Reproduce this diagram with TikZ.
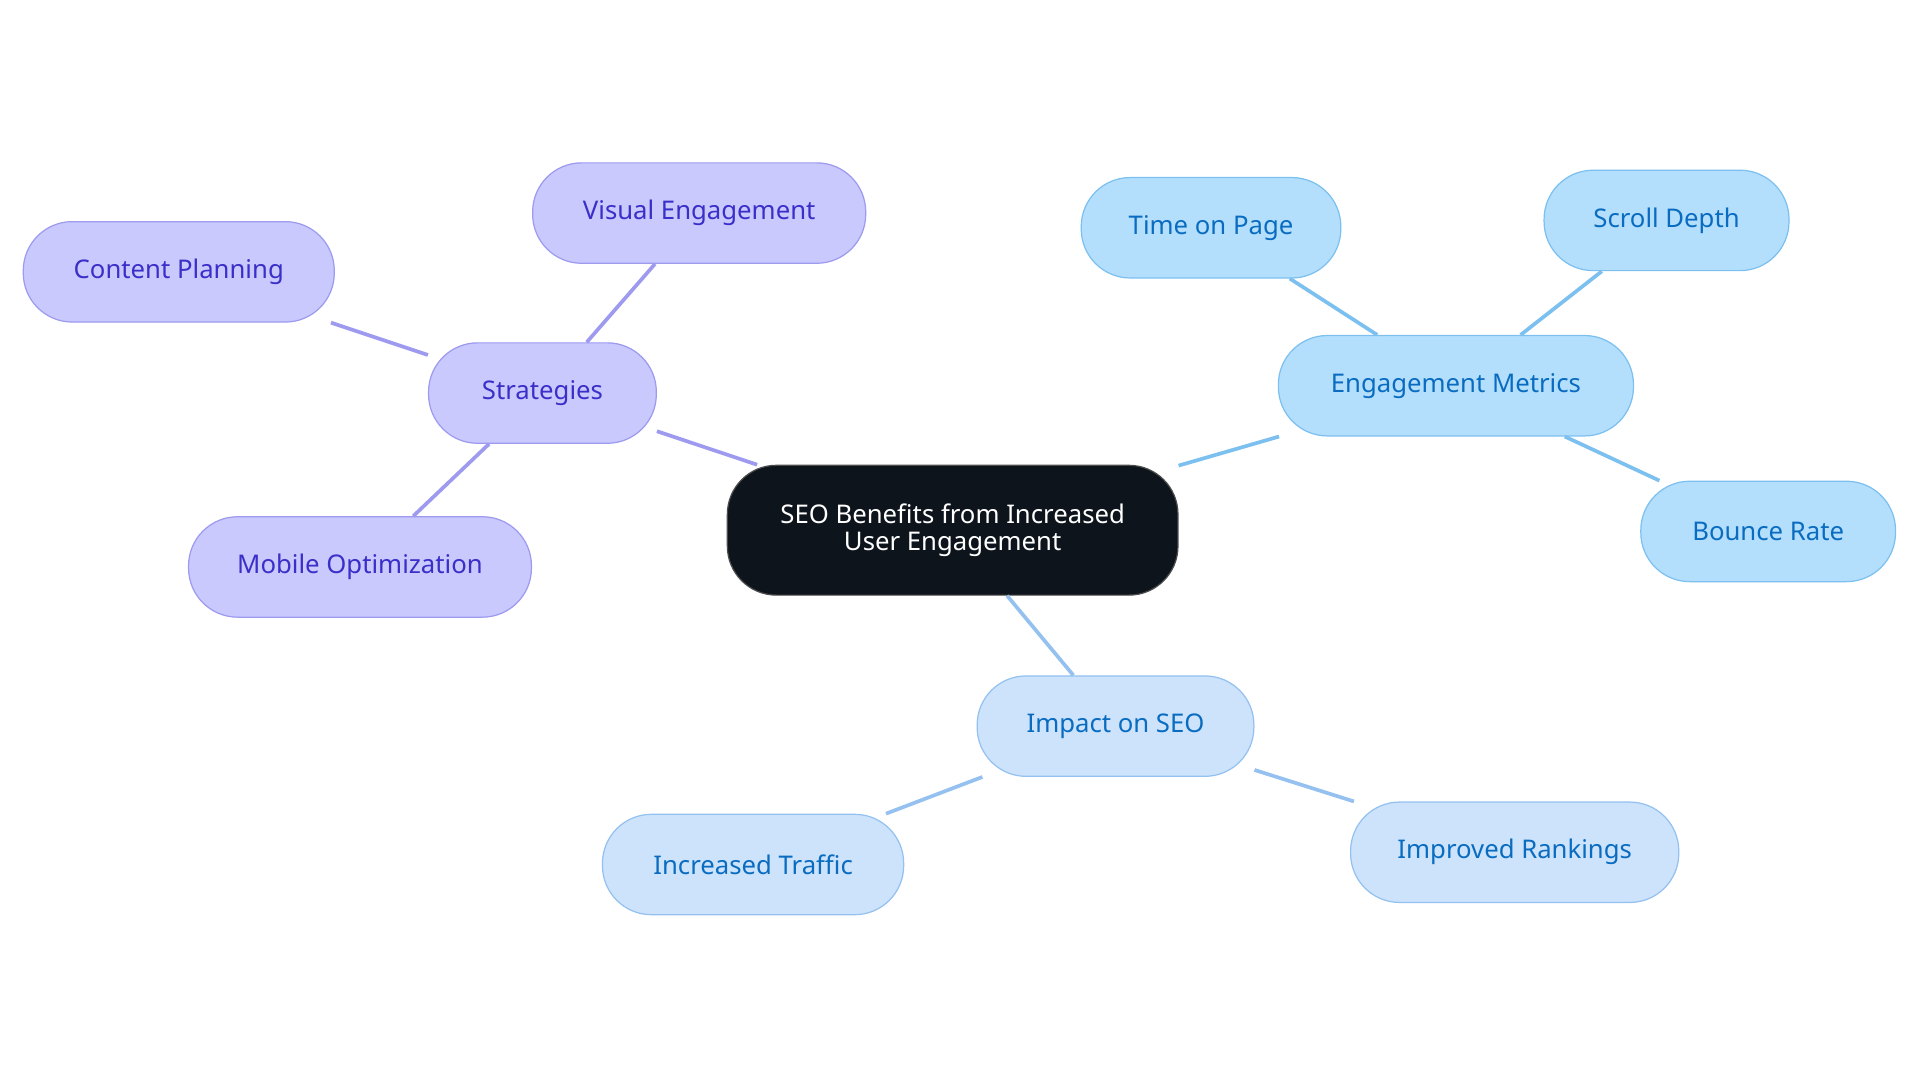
\documentclass[tikz,border=0pt]{standalone}
\usepackage{fontspec}
\setmainfont{Noto Sans}
\definecolor{pf}{HTML}{C9C9FD}\definecolor{pd}{HTML}{9D9AF0}\definecolor{pt}{HTML}{3A2FC8}
\definecolor{bf}{HTML}{B3DFFD}\definecolor{bd}{HTML}{7CC0F0}\definecolor{bt}{HTML}{0A6CC0}
\definecolor{lf}{HTML}{CCE3FB}\definecolor{ld}{HTML}{94C1EF}
\begin{document}
\begin{tikzpicture}[x=1pt,y=-1pt,
 box/.style={rounded corners=40pt,minimum height=82pt,line width=1pt,font=\fontsize{21}{25}\selectfont,inner sep=0pt},
 pbox/.style={box,fill=pf,draw=pd,text=pt},
 bbox/.style={box,fill=bf,draw=bd,text=bt},
 lbox/.style={box,fill=lf,draw=ld,text=bt},
 pl/.style={draw=pd,line width=3pt},
 bl/.style={draw=bd,line width=3pt},
 ll/.style={draw=ld,line width=3pt}]
\useasboundingbox[fill=white] (0,0) rectangle (1568,884);
\node[box,fill=black!85!blue!40!black,fill={rgb,255:red,13;green,20;blue,28},draw=gray!60!black,text=white,minimum width=368pt,minimum height=106pt,align=center] (c) at (778,433) {SEO Benefits from Increased\\[-3pt]User Engagement};
\node[pbox,minimum width=186pt] (s) at (443,321) {Strategies};
\node[pbox,minimum width=272pt] (ve) at (571,174) {Visual Engagement};
\node[pbox,minimum width=254pt] (cp) at (146,222) {Content Planning};
\node[pbox,minimum width=280pt] (mo) at (294,463) {Mobile Optimization};
\node[bbox,minimum width=290pt] (em) at (1189,315) {Engagement Metrics};
\node[bbox,minimum width=212pt] (tp) at (989,186) {Time on Page};
\node[bbox,minimum width=200pt] (sd) at (1361,180) {Scroll Depth};
\node[bbox,minimum width=208pt] (br) at (1444,434) {Bounce Rate};
\node[lbox,minimum width=226pt] (is) at (911,593) {Impact on SEO};
\node[lbox,minimum width=246pt] (it) at (615,706) {Increased Traffic};
\node[lbox,minimum width=268pt] (ir) at (1237,696) {Improved Rankings};
\begin{scope}[on background layer/.try]
\end{scope}
\begin{pgfinterruptboundingbox}\end{pgfinterruptboundingbox}
\path[pl] (c) -- (s); \path[pl] (s) -- (ve); \path[pl] (s) -- (cp); \path[pl] (s) -- (mo);
\path[bl] (c) -- (em); \path[bl] (em) -- (tp); \path[bl] (em) -- (sd); \path[bl] (em) -- (br);
\path[ll] (c) -- (is); \path[ll] (is) -- (it); \path[ll] (is) -- (ir);
\end{tikzpicture}
\end{document}
